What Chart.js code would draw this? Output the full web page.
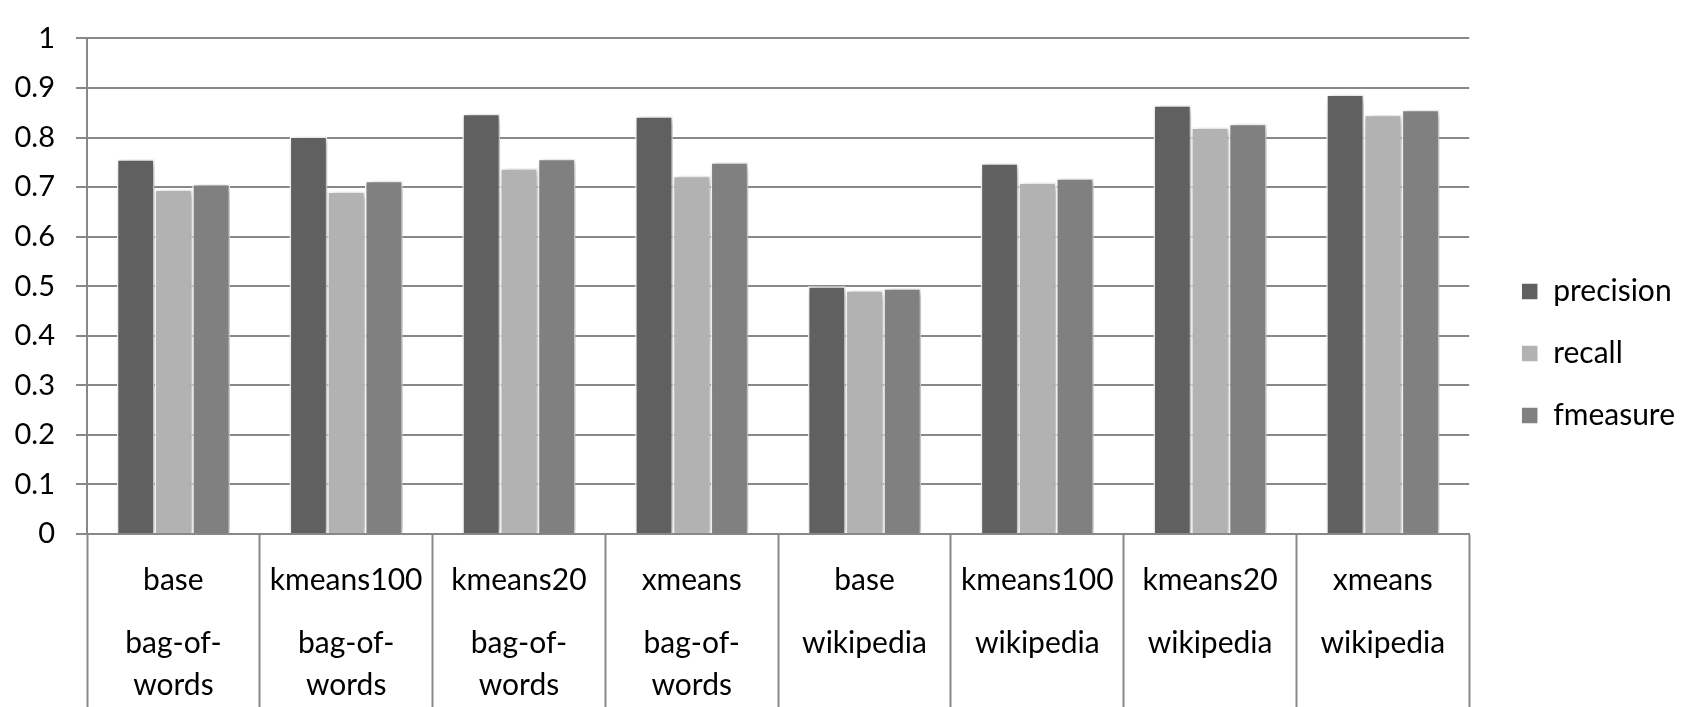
<!DOCTYPE html>
<html>
<head>
<meta charset="utf-8">
<script src="https://cdn.jsdelivr.net/npm/chart.js@4.4.1/dist/chart.umd.min.js"></script>
<style>
html,body{margin:0;padding:0;background:#fff;overflow:hidden;}
#wrap{width:1702px;height:707px;}
</style>
</head>
<body>
<div id="wrap"><canvas id="c" width="1702" height="707"></canvas></div>
<script>
const methods = ["base", "kmeans100", "kmeans20", "xmeans", "base", "kmeans100", "kmeans20", "xmeans"];
const sources = ["bag-of-words", "bag-of-words", "bag-of-words", "bag-of-words", "wikipedia", "wikipedia", "wikipedia", "wikipedia"];
const seriesNames = ["precision", "recall", "fmeasure"];
const precision = [0.756, 0.802, 0.848, 0.843, 0.500, 0.748, 0.865, 0.887];
const recall    = [0.695, 0.691, 0.738, 0.723, 0.492, 0.709, 0.820, 0.846];
const fmeasure  = [0.706, 0.713, 0.757, 0.750, 0.496, 0.718, 0.828, 0.856];
const yTicks = [0, 0.1, 0.2, 0.3, 0.4, 0.5, 0.6, 0.7, 0.8, 0.9, 1];
const colors = ["#606060", "#b2b2b2", "#808080"];

// label lines: method on first row, source on fourth (and sixth) rows
const labels = methods.map((m, i) => {
  const s = sources[i];
  if (s === "bag-of-words") return [m, "", "", "bag-of-", "", "words"];
  return [m, "", "", s, "", ""];
});

const FONT = "Lato";
const GRID = "#888888";

const shadowPlugin = {
  id: "barShadow",
  beforeDatasetsDraw(chart) {
    const ctx = chart.ctx;
    ctx.save();
    ctx.shadowColor = "rgba(0,0,0,0.33)";
    ctx.shadowBlur = 8;
    ctx.shadowOffsetX = 3;
    ctx.shadowOffsetY = 2;
  },
  afterDatasetsDraw(chart) {
    chart.ctx.restore();
  }
};

const legendPlace = {
  id: "legendPlace",
  afterLayout(chart) {
    const lg = chart.legend;
    if (!lg) return;
    const w = lg.width;
    lg.left = chart.chartArea.right + 20;
    lg.right = lg.left + w;
    lg.top = 0;
    lg.bottom = chart.height;
  }
};

const data = {
  labels: labels,
  datasets: [precision, recall, fmeasure].map((vals, i) => ({
    label: seriesNames[i],
    data: vals,
    backgroundColor: colors[i],
    borderColor: "#ffffff",
    borderWidth: 1.5,
    categoryPercentage: 0.655,
    barPercentage: 1.0
  }))
};

new Chart(document.getElementById("c"), {
  type: "bar",
  data: data,
  plugins: [shadowPlugin, legendPlace],
  options: {
    responsive: false,
    animation: false,
    devicePixelRatio: 1,
    layout: { padding: { top: 21, left: 0, right: 37, bottom: 0 } },
    plugins: {
      legend: {
        position: "right",
        align: "center",
        labels: {
          boxWidth: 17,
          boxHeight: 17,
          padding: 32,
          color: "#000",
          font: { family: FONT, size: 30 }
        }
      },
      tooltip: { enabled: false }
    },
    scales: {
      x: {
        grid: {
          drawOnChartArea: false,
          drawTicks: true,
          tickLength: 173,
          tickColor: GRID,
          tickWidth: 2,
          offset: true
        },
        border: { display: true, color: GRID, width: 2 },
        ticks: {
          autoSkip: false,
          maxRotation: 0,
          minRotation: 0,
          padding: -137.5,
          color: "#000",
          font: { family: FONT, size: 30, lineHeight: "21px" }
        },
        afterFit(scale) { scale.height = 173; }
      },
      y: {
        min: 0,
        max: 1,
        afterBuildTicks(scale) { scale.ticks = yTicks.map(v => ({ value: v })); },
        grid: {
          color: GRID,
          lineWidth: 2,
          drawTicks: true,
          tickLength: 11,
          tickColor: GRID
        },
        border: { display: true, color: GRID, width: 2 },
        ticks: {
          padding: 21,
          color: "#000",
          font: { family: FONT, size: 29 },
          callback: (v) => String(+Number(v).toFixed(1))
        },
        afterFit(scale) { scale.width = 87; }
      }
    }
  }
});
</script>
</body>
</html>
